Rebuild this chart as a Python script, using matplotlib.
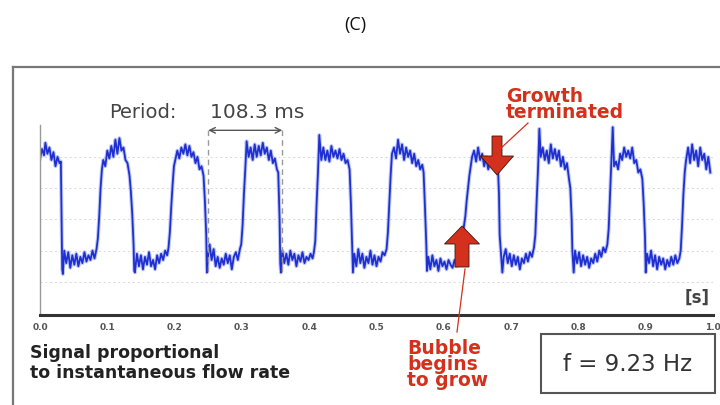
import matplotlib.pyplot as plt
from matplotlib.lines import Line2D
from matplotlib.patches import FancyArrow, Rectangle

# time [s] and signal (arbitrary units)
time_s = [
    0.000, 0.003, 0.006, 0.008, 0.011, 0.014, 0.017, 0.020, 0.023, 0.026, 0.029, 0.031,
    0.032, 0.033, 0.034,
    0.036, 0.039, 0.042, 0.045, 0.048, 0.051, 0.054, 0.057, 0.060, 0.063, 0.066, 0.069, 0.072, 0.075, 0.078, 0.081, 0.084,
    0.086, 0.088, 0.090, 0.092, 0.094,
    0.097, 0.100, 0.103, 0.106, 0.109, 0.112, 0.115, 0.118, 0.121, 0.124, 0.127, 0.130, 0.133,
    0.135, 0.137, 0.139, 0.140, 0.141,
    0.144, 0.147, 0.150, 0.153, 0.156, 0.159, 0.162, 0.165, 0.168, 0.171, 0.174, 0.177, 0.180, 0.183, 0.186, 0.189, 0.191,
    0.193, 0.195, 0.197, 0.199, 0.201,
    0.204, 0.207, 0.210, 0.213, 0.216, 0.219, 0.222, 0.225, 0.228, 0.231, 0.234, 0.237, 0.240, 0.243,
    0.245, 0.247, 0.248,
    0.250, 0.252, 0.255, 0.258, 0.261, 0.264, 0.267, 0.270, 0.273, 0.276, 0.279, 0.282, 0.285, 0.288, 0.291, 0.294, 0.297, 0.299,
    0.301, 0.303, 0.305, 0.307,
    0.310, 0.313, 0.316, 0.319, 0.322, 0.325, 0.328, 0.331, 0.334, 0.337, 0.340, 0.343, 0.346, 0.349, 0.352, 0.354,
    0.356, 0.357, 0.358,
    0.360, 0.363, 0.366, 0.369, 0.372, 0.375, 0.378, 0.381, 0.384, 0.387, 0.390, 0.393, 0.396, 0.399, 0.402, 0.405, 0.407,
    0.409, 0.411, 0.413, 0.415,
    0.418, 0.421, 0.424, 0.427, 0.430, 0.433, 0.436, 0.439, 0.442, 0.445, 0.448, 0.451, 0.454, 0.457, 0.460,
    0.462, 0.464, 0.465,
    0.467, 0.470, 0.473, 0.476, 0.479, 0.482, 0.485, 0.488, 0.491, 0.494, 0.497, 0.500, 0.503, 0.506, 0.509, 0.512, 0.515,
    0.517, 0.519, 0.521, 0.523,
    0.526, 0.529, 0.532, 0.535, 0.538, 0.541, 0.544, 0.547, 0.550, 0.553, 0.556, 0.559, 0.562, 0.565, 0.568, 0.570,
    0.572, 0.574, 0.575,
    0.577, 0.580, 0.583, 0.586, 0.589, 0.592, 0.595, 0.598, 0.601, 0.604, 0.607, 0.610, 0.613, 0.616, 0.619, 0.622, 0.624,
    0.626, 0.628, 0.630, 0.632, 0.634, 0.636, 0.638, 0.640, 0.642,
    0.645, 0.648, 0.651, 0.654, 0.657, 0.660, 0.663, 0.666, 0.669, 0.672, 0.675, 0.678, 0.680,
    0.682, 0.683, 0.685, 0.687,
    0.689, 0.692, 0.695, 0.698, 0.701, 0.704, 0.707, 0.710, 0.713, 0.716, 0.719, 0.722, 0.725, 0.728, 0.731, 0.734,
    0.736, 0.738, 0.740, 0.742,
    0.744, 0.747, 0.750, 0.753, 0.756, 0.759, 0.762, 0.765, 0.768, 0.771, 0.774, 0.777, 0.780, 0.783, 0.786, 0.788,
    0.790, 0.791, 0.793,
    0.795, 0.798, 0.801, 0.804, 0.807, 0.810, 0.813, 0.816, 0.819, 0.822, 0.825, 0.828, 0.831, 0.834, 0.837, 0.840, 0.843,
    0.845, 0.847, 0.849, 0.851,
    0.853, 0.856, 0.859, 0.862, 0.865, 0.868, 0.871, 0.874, 0.877, 0.880, 0.883, 0.886, 0.889, 0.892, 0.895,
    0.897, 0.899, 0.900,
    0.902, 0.905, 0.908, 0.911, 0.914, 0.917, 0.920, 0.923, 0.926, 0.929, 0.932, 0.935, 0.938, 0.941, 0.944, 0.947, 0.950,
    0.952, 0.954, 0.956, 0.958, 0.960,
    0.963, 0.966, 0.969, 0.972, 0.975, 0.978, 0.981, 0.984, 0.987, 0.990, 0.993, 0.996,
]
signal = [
    3.95, 4.25, 4.05, 4.45, 4.10, 4.30, 3.90, 4.15, 3.70, 4.00, 3.80, 3.85,
    2.00, 0.40, 0.25,
    1.00, 0.60, 0.95, 0.45, 0.85, 0.55, 0.90, 0.50, 0.80, 0.60, 0.95, 0.65, 0.85, 0.70, 1.00, 0.75, 1.05,
    1.40, 2.10, 3.00, 3.60, 3.90,
    3.70, 4.20, 3.95, 4.35, 4.00, 4.55, 4.10, 4.60, 4.20, 4.30, 3.90, 3.80, 3.40,
    2.90, 2.20, 1.20, 0.35, 0.30,
    0.90, 0.50, 0.85, 0.40, 0.80, 0.55, 0.95, 0.50, 0.70, 0.40, 0.85, 0.60, 0.90, 0.70, 1.00, 0.85, 1.10,
    1.60, 2.40, 3.10, 3.70, 3.90,
    4.20, 3.95, 4.30, 4.10, 4.40, 4.05, 4.35, 4.00, 4.15, 3.80, 4.00, 3.60, 3.70, 3.40,
    2.60, 1.50, 0.30,
    0.90, 1.20, 0.70, 1.05, 0.50, 0.80, 0.45, 0.75, 0.55, 0.90, 0.60, 0.85, 0.40, 0.80, 0.95, 0.70, 1.05, 1.20,
    1.80, 2.80, 3.60, 4.50,
    4.00, 4.30, 3.90, 4.40, 4.00, 4.35, 4.05, 4.45, 4.10, 4.30, 3.90, 4.20, 3.80, 3.95, 3.60, 3.50,
    2.00, 0.60, 0.30,
    1.00, 0.60, 0.90, 0.55, 1.00, 0.70, 0.90, 0.50, 0.85, 0.65, 0.95, 0.60, 0.80, 0.70, 0.90, 0.75, 0.95,
    1.30, 2.50, 3.50, 4.70,
    3.90, 4.30, 3.90, 4.20, 3.85, 4.35, 4.00, 4.20, 3.95, 4.25, 3.90, 4.10, 3.80, 3.90, 3.60,
    2.50, 1.00, 0.30,
    0.90, 0.50, 1.05, 0.60, 0.90, 0.45, 0.80, 0.60, 1.00, 0.55, 0.85, 0.50, 0.80, 0.65, 0.95, 0.85, 1.05,
    1.60, 2.50, 3.40, 4.10,
    4.30, 3.95, 4.55, 4.10, 4.40, 3.90, 4.30, 4.00, 4.20, 3.80, 4.10, 3.70, 3.90, 3.60, 3.75, 3.50,
    2.40, 1.20, 0.35,
    0.80, 0.40, 0.85, 0.50, 0.70, 0.35, 0.75, 0.50, 0.65, 0.40, 0.70, 0.55, 0.45, 0.70, 0.50, 0.75, 0.60,
    0.90, 1.40, 1.80, 2.10, 2.60, 3.00, 3.40, 3.70, 4.00,
    4.20, 3.85, 4.30, 3.90, 4.10, 3.70, 4.00, 3.60, 3.85, 3.70, 4.10, 3.75, 3.90,
    2.80, 1.50, 0.90, 0.30,
    0.80, 1.05, 0.60, 0.90, 0.50, 0.85, 0.55, 0.80, 0.40, 0.75, 0.60, 0.90, 0.65, 0.95, 0.80, 1.10,
    1.50, 2.60, 3.60, 4.90,
    4.00, 4.30, 3.90, 4.20, 3.80, 4.40, 3.95, 4.25, 3.90, 4.20, 3.70, 4.00, 3.60, 3.80, 3.30, 3.00,
    2.00, 1.00, 0.30,
    1.00, 0.60, 0.95, 0.50, 0.85, 0.55, 0.80, 0.45, 0.75, 0.60, 0.90, 0.65, 1.00, 0.80, 1.10, 0.95, 1.20,
    1.70, 2.80, 3.90, 4.95,
    3.70, 3.85, 3.60, 4.10, 3.90, 4.30, 4.00, 4.20, 3.95, 4.30, 3.80, 3.90, 3.50, 3.60, 3.30,
    2.50, 1.40, 0.30,
    0.90, 0.60, 1.00, 0.50, 0.85, 0.40, 0.80, 0.55, 0.75, 0.40, 0.70, 0.50, 0.80, 0.55, 0.85, 0.60, 0.75,
    1.00, 1.80, 2.80, 3.50, 3.90,
    4.30, 3.80, 4.40, 3.90, 4.20, 3.70, 4.30, 3.90, 4.10, 3.60, 4.00, 3.50,
]
x_ticks = [0.0, 0.1, 0.2, 0.3, 0.4, 0.5, 0.6, 0.7, 0.8, 0.9, 1.0]
x_labels = ['0.0', '0.1', '0.2', '0.3', '0.4', '0.5', '0.6', '0.7', '0.8', '0.9', '1.0']
period_start = 0.250
period_end = 0.360
period_text = '108.3 ms'
freq_text = 'f = 9.23 Hz'

RED = '#d4301e'
plt.rcParams['font.family'] = ['DejaVu Sans']

fig = plt.figure(figsize=(7.2, 4.06), dpi=100)
W, H = 720, 406


def fx(px):
    return px / W


def fy(py):
    return (H - py) / H


# outer frame
fig.add_artist(Line2D([fx(13), fx(13)], [fy(68), 0], color='#777777', lw=1.6))
fig.add_artist(Line2D([fx(13), 1], [fy(68), fy(68)], color='#777777', lw=1.6))

fig.text(fx(355), fy(25), '(C)', ha='center', va='center', fontsize=13,
         family=['Open Sans', 'DejaVu Sans'], color='#111111')

ax = fig.add_axes([fx(40), fy(316), fx(713) - fx(40), fy(126) - fy(316)])
ax.set_xlim(0, 1)
ax.set_ylim(-1.06, 5.02)

ax.plot(time_s, signal, color='#8a9cf0', lw=2.8, alpha=0.55)
ax.plot(time_s, signal, color='#1f2fd0', lw=1.3)

for gy in [0, 1, 2, 3, 4]:
    ax.axhline(gy, color='#d8d8d8', lw=0.7, ls=(0, (2, 3)), zorder=0)

ax.set_yticks([])
ax.set_xticks(x_ticks)
ax.set_xticklabels(x_labels, fontsize=6.5, fontweight='bold', color='#555555')
ax.tick_params(axis='x', length=0, pad=5)
for s in ['top', 'right']:
    ax.spines[s].set_visible(False)
ax.spines['left'].set_color('#999999')
ax.spines['left'].set_linewidth(1.0)
ax.spines['bottom'].set_color('#333333')
ax.spines['bottom'].set_linewidth(2.2)

fig.text(fx(710), fy(298), '[s]', ha='right', va='center', fontsize=12,
         fontweight='bold', color='#444444')

# period marker
for xp in [period_start, period_end]:
    ax.plot([xp, xp], [4.85, 0.3], color='#999999', lw=1.0, ls=(0, (4, 3)))
ax.annotate('', xy=(period_start, 4.85), xytext=(period_end, 4.85),
            arrowprops=dict(arrowstyle='<->', color='#555555', lw=1.0,
                            shrinkA=0, shrinkB=0), annotation_clip=False)
fig.text(fx(109), fy(113), 'Period:', ha='left', va='center', fontsize=14, color='#444444')
fig.text(fx(210), fy(113), period_text, ha='left', va='center', fontsize=14.5, color='#444444')

# growth terminated
fig.text(fx(506), fy(105), 'Growth\nterminated', ha='left', va='center', fontsize=13.5,
         fontweight='bold', color=RED, linespacing=0.8)
fig.add_artist(Line2D([fx(528), fx(500)], [fy(124), fy(150)], color=RED, lw=0.9))
fig.add_artist(FancyArrow(fx(497), fy(137), 0, fy(176) - fy(137), width=fx(10),
                          head_width=fx(33), head_length=(fy(157) - fy(176)),
                          length_includes_head=True, transform=fig.transFigure,
                          color=RED, ec='#3a1a10', lw=0.6))

# bubble begins to grow
fig.add_artist(FancyArrow(fx(462), fy(268), 0, fy(227) - fy(268), width=fx(14),
                          head_width=fx(35), head_length=(fy(227) - fy(245)),
                          length_includes_head=True, transform=fig.transFigure,
                          color=RED, ec='#3a1a10', lw=0.6))
fig.add_artist(Line2D([fx(465), fx(457)], [fy(270), fy(333)], color=RED, lw=0.9))
fig.text(fx(407), fy(365), 'Bubble\nbegins\nto grow', ha='left', va='center', fontsize=13.5,
         fontweight='bold', color=RED, linespacing=0.8)

fig.text(fx(30), fy(363), 'Signal proportional\nto instantaneous flow rate', ha='left',
         va='center', fontsize=12.5, fontweight='bold', color='#222222', linespacing=1.2)

fig.add_artist(Rectangle((fx(541), fy(394)), fx(715) - fx(541), fy(335) - fy(394),
                         transform=fig.transFigure, fc='white', ec='#555555', lw=1.5))
fig.text(fx(628), fy(365), freq_text, ha='center', va='center', fontsize=16.5, color='#333333')

plt.savefig('out.png', dpi=100)
plt.close()
